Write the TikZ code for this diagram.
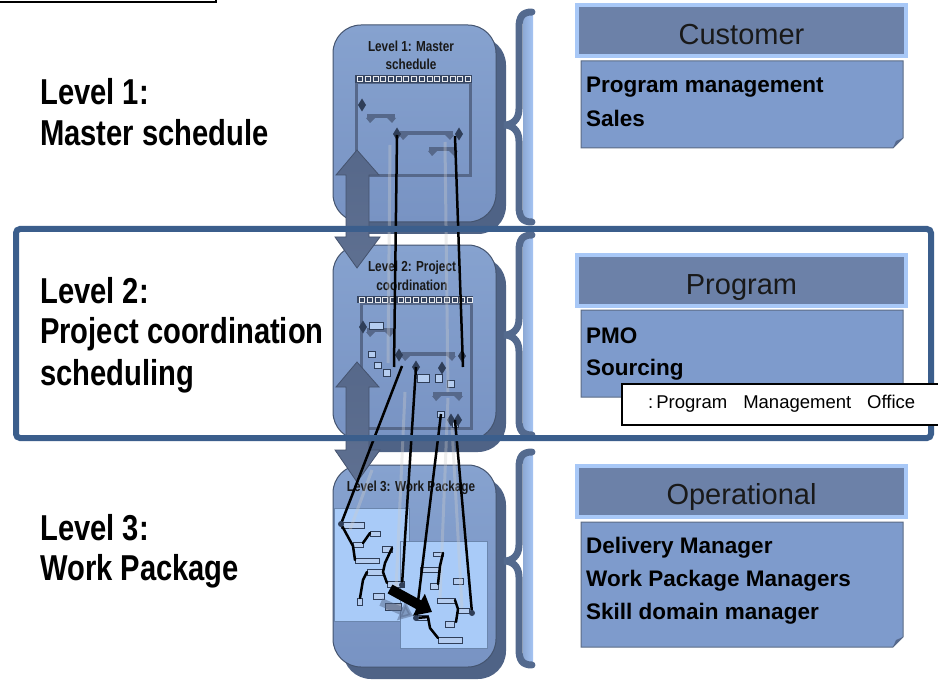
\documentclass[tikz,border=0pt]{standalone}
\usepackage{fontspec}
\setmainfont{Liberation Sans}
\newfontfamily\narrowfont[FakeStretch=0.81]{Liberation Sans}
\usetikzlibrary{arrows.meta}
\definecolor{panelfill}{HTML}{86A2CF}
\definecolor{panellow}{HTML}{7893C3}
\definecolor{paneldraw}{HTML}{44546F}
\definecolor{panelshade}{HTML}{4F6386}
\definecolor{bracec}{HTML}{546A8E}
\definecolor{stripc}{HTML}{A5C4F3}
\definecolor{framec}{HTML}{3B5E8C}
\definecolor{headfill}{HTML}{6C81A8}
\definecolor{headedge}{HTML}{A8C8F7}
\definecolor{bodyfill}{HTML}{7E9BCC}
\definecolor{bodyedge}{HTML}{5B6B85}
\definecolor{foldc}{HTML}{56698D}
\definecolor{ganttline}{HTML}{56688A}
\definecolor{ganttdark}{HTML}{2F3E58}
\definecolor{taskfill}{HTML}{B5CDF0}
\definecolor{wpfill}{HTML}{A9CBF8}
\definecolor{wpedge}{HTML}{6B86AD}
\definecolor{arrowlight}{HTML}{A7B4CC}
\tikzset{
  panel/.style={draw=paneldraw, line width=1pt, top color=panelfill, bottom color=panellow, rounded corners=28pt},
  panelback/.style={fill=panelshade, rounded corners=28pt},
  ganttbox/.style={draw=ganttline, line width=3pt},
  ganttbar/.style={fill=ganttline},
  taskbox/.style={draw=ganttdark, fill=taskfill, line width=0.8pt},
  wpbox/.style={draw=wpedge, fill=wpfill, line width=0.8pt},
  link/.style={line width=2.5pt, black},
  faint/.style={line width=3pt, white!60!gray, opacity=0.35},
  tree/.style={line width=2.5pt, black, line cap=round, line join=round},
  bigarrow/.style={draw=ganttline!80!black, line width=0.8pt, top color=ganttline, middle color=arrowlight, bottom color=ganttline!90!arrowlight},
  bracepath/.style={draw=bracec, line width=7pt, line cap=round},
  headbox/.style={draw=headedge, fill=headfill, line width=4pt, minimum width=329pt, minimum height=51pt, inner sep=0pt, font=\fontsize{29}{30}\selectfont, text height=27pt, text depth=0pt, text=black!90},
  bodybox/.style={draw=bodyedge, fill=bodyfill, line width=1pt},
  bodytext/.style={anchor=base west, inner sep=0pt, font=\bfseries\fontsize{22.5}{24}\selectfont},
  lvltext/.style={anchor=base west, inner sep=0pt, font=\narrowfont\bfseries\fontsize{36}{40}\selectfont},
  paneltitle/.style={anchor=base, inner sep=0pt, text=black!90, font=\narrowfont\bfseries\fontsize{14.5}{15}\selectfont},
}
\begin{document}
\begin{tikzpicture}[x=1pt,y=-1pt]
\useasboundingbox (0,0) rectangle (938,682);
\fill[white] (0,0) rectangle (938,682);
% box edge at top left
\draw[line width=2.5pt] (-5,2) -- (216,2) -- (216,-5);

% left labels
\node[lvltext] (lv1a) at (40,105) {Level 1:};
\node[lvltext] (lv1b) at (40,146) {Master schedule};
\node[lvltext] (lv2a) at (40,303) {Level 2:};
\node[lvltext] (lv2b) at (40,343) {Project coordination};
\node[lvltext] (lv2c) at (40,385) {scheduling};
\node[lvltext] (lv3a) at (40,540) {Level 3:};
\node[lvltext] (lv3b) at (40,580) {Work Package};

% the three schedule panels
\foreach \ta/\tb in {25/222, 245/440, 465/667} {
  \fill[panelback] (343,\ta+12) rectangle (506,\tb+12);
  \draw[panel] (333,\ta) rectangle (496,\tb);
}
\node[paneltitle] (ttl1a) at (411,52) {Level 1: Master};
\node[paneltitle] (ttl1b) at (411,70) {schedule};
\node[paneltitle] (ttl2a) at (412,272) {Level 2: Project};
\node[paneltitle] (ttl2b) at (412,290) {coordination};
\node[paneltitle] (ttl3) at (411,491) {Level 3: Work Package};

% gantt frames of level 1 and 2
\draw[ganttbox] (356.5,83) rectangle (470.5,176);
\fill[ganttdark!80!ganttline] (355,75) rectangle (472,83);
\draw[ganttbox] (361,303) rectangle (471,428);
\fill[ganttdark!80!ganttline] (357,296) rectangle (473,303);
\foreach \i in {0,...,14} {
  \draw[white!85!ganttline, line width=0.6pt] (357.5+\i*7.7,76.5) rectangle ++(5,5);
  \draw[white!85!ganttline, line width=0.6pt] (359.5+\i*7.7,297) rectangle ++(5,5);
}

% summary bars
\foreach \xa/\xb/\yy in {367/395/114, 400/453/131, 429/457/147, 367/393/328, 402/455/352, 433/462/392} {
  \fill[ganttbar] (\xa,\yy) rectangle (\xb,\yy+4);
  \fill[ganttbar] (\xa-1,\yy+4) -- (\xa+8,\yy+4) -- (\xa+3,\yy+9) -- cycle;
  \fill[ganttbar] (\xb+1,\yy+4) -- (\xb-8,\yy+4) -- (\xb-3,\yy+9) -- cycle;
}
% tasks of level 2
\foreach \xa/\ya/\xb/\yb in {369/322/383/329, 368/351/375/357, 374/362/381/368, 383/369/390/376,
  417/374/429/382, 435/374/442/382, 447/380/454/387, 437/411/444/417, 452/421/458/427}
  \draw[taskbox] (\xa,\ya) rectangle (\xb,\yb);
% milestones
\foreach \xx/\yy in {362/105, 397/134, 459/134, 363/327, 399/355, 462/356, 416/367, 442/368, 451/420, 458/420}
  \fill[ganttdark] (\xx,\yy-6.5) -- (\xx+4,\yy) -- (\xx,\yy+6.5) -- (\xx-4,\yy) -- cycle;

% work packages of level 3
\draw[wpbox] (334,508) rectangle (409,621);
\draw[wpbox] (400,541) rectangle (487,648);
\foreach \xa/\ya/\xb/\yb in {341/522/364/528, 370/531/380/536, 353/542/363/547, 382/546/392/552,
  355/558/379/563, 367/569/383/575, 387/581/404/587, 373/593/384/599, 357/598/362/605,
  433/552/443/556, 420/567/440/572, 430/583/438/589, 453/578/463/584, 437/598/455/603,
  458/608/469/613, 445/621/454/627, 416/615/428/620, 438/637/462/643}
  \draw[taskbox] (\xa,\ya) rectangle (\xb,\yb);
\draw[taskbox, fill=ganttline!60!white] (385,603) rectangle (401,610);

% faint traces
\draw[faint] (390,145) -- (388,363);
\draw[faint] (445,142) -- (448,392);
\draw[faint] (405,392) -- (396,590);
\draw[faint] (448,398) -- (440,598);
\draw[faint] (452,428) -- (462,608);
\draw[faint] (372,470) -- (350,530);
\draw[ganttline, opacity=0.5, line width=8pt, -{Triangle[length=13pt,width=20pt]}] (381,602) -- (413,616);

% up/down arrows between levels
\foreach \ya/\yb/\yc/\yd in {150/175/237/268, 362/387/450/482}
  \draw[bigarrow] (357,\ya) -- (379,\yb) -- (369,\yb) -- (369,\yc) -- (380,\yc) -- (357,\yd)
    -- (335,\yc) -- (346,\yc) -- (346,\yb) -- (336,\yb) -- cycle;

% links between the levels
\coordinate (ms1a) at (397,135);
\coordinate (ms1b) at (455,136);
\coordinate (ms2a) at (394,367);
\coordinate (ms2b) at (463,367);
\coordinate (ms2c) at (402,366);
\coordinate (ms2d) at (416,367);
\coordinate (ms2e) at (441,414);
\coordinate (ms2f) at (455,420);
\coordinate (wp1a) at (341,524);
\coordinate (wp1b) at (402,585);
\coordinate (wp2a) at (416,618);
\coordinate (wp2b) at (472,613);
\draw[link] (ms1a) -- (ms2a);
\draw[link] (ms1b) -- (ms2b);
\draw[link] (ms2c) -- (wp1a);
\draw[link] (ms2d) -- (wp1b);
\draw[link] (ms2e) -- (wp2a);
\draw[link] (ms2f) -- (wp2b);

% level 3 task chains
\draw[tree] (wp1a) -- (353,546) -- (355,560);
\draw[tree] (363,543) -- (370,533);
\draw[tree] (392,548) -- (385,563) -- (383,572) -- (387,583);
\draw[tree] (367,572) -- (363,580) -- (360,598);
\draw[tree] (443,553) -- (440,566) -- (438,584);
\draw[tree] (455,600) -- (458,609) -- (456,622);
\draw[tree] (wp2a) -- (428,617) -- (430,628) -- (438,638);
\foreach \p in {wp1a, wp1b, wp2a, wp2b}
  \fill[ganttdark] (\p) circle (3pt);
\draw[line width=10pt, -{Triangle[length=15pt,width=24pt]}] (390,589) -- (432,612);

% braces
\foreach \ta/\tm/\tb in {12/125/222, 235/335/435, 452/561/665} {
  \shade[left color=stripc!70!bracec, right color=stripc] (523,\ta+3) rectangle (533,\tb-3);
  \draw[bracepath] (532,\ta) .. controls (522,\ta) and (519,\ta+5) .. (519,\ta+16) -- (519,\tm-16)
    .. controls (519,\tm-5) and (512,\tm) .. (504,\tm) .. controls (512,\tm) and (519,\tm+5) .. (519,\tm+16)
    -- (519,\tb-16) .. controls (519,\tb-5) and (522,\tb) .. (532,\tb);
}

% level 2 frame
\draw[framec, line width=6pt, rounded corners=4pt] (16,229) rectangle (931,438);

% roles on the right
\node[headbox] (hcust) at (741.5,31) {Customer};
\node[headbox] (hprog) at (741.5,280.5) {Program};
\node[headbox] (hoper) at (741.5,491) {Operational};
\foreach \ta/\tb in {61/148, 310/397, 522/647} {
  \draw[bodybox] (581,\ta) -- (903,\ta) -- (903,\tb-10) -- (893,\tb) -- (581,\tb) -- cycle;
  \fill[foldc] (903,\tb-10) -- (896,\tb-7) -- (893,\tb) -- cycle;
}
\node[bodytext] (cust1) at (586,93) {Program management};
\node[bodytext] (cust2) at (586,127) {Sales};
\node[bodytext] (prog1) at (586,343) {PMO};
\node[bodytext] (prog2) at (586,375) {Sourcing};
\node[bodytext] (oper1) at (586,553) {Delivery Manager};
\node[bodytext] (oper2) at (586,586) {Work Package Managers};
\node[bodytext] (oper3) at (586,619) {Skill domain manager};

% note on PMO
\draw[fill=white, line width=1.5pt] (622,384) rectangle (950,425);
\node[anchor=base west, inner sep=0pt, font=\fontsize{18.5}{20}\selectfont] (pmonote) at (648,408)
  {:\hspace{3pt}Program\hspace{16pt}Management\hspace{16pt}Office};
\end{tikzpicture}
\end{document}
